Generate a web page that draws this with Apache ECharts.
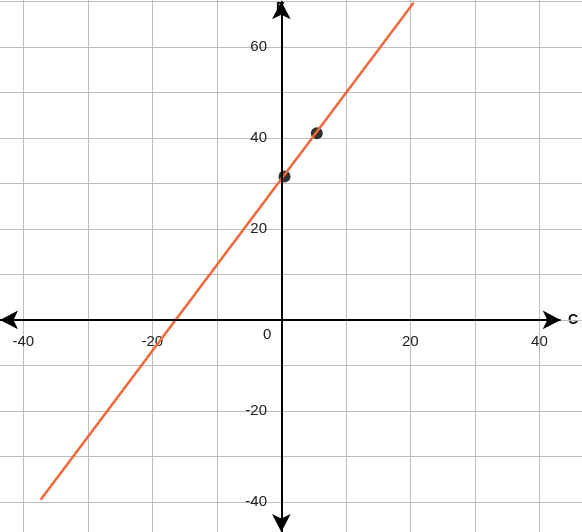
<!DOCTYPE html>
<html>
<head>
<meta charset="utf-8">
<script src="https://cdn.jsdelivr.net/npm/echarts@6/dist/echarts.min.js"></script>
<style>html,body{margin:0;padding:0;background:#fff}#chart{width:582px;height:532px}</style>
</head>
<body>
<div id="chart"></div>
<script>
// line endpoints (C, F)
const lineData = [[-37.3, -39.5], [20.5, 69.7]];
const pointData = [[0.5, 31.5], [5.5, 41]];
const xAxisEnds = [[-43.6, 0], [43.3, 0]];
const yAxisEnds = [[0, -46.6], [0, 70]];
const xGrid = [-40, -30, -20, -10, 0, 10, 20, 30, 40];
const yGrid = [-40, -30, -20, -10, 0, 10, 20, 30, 40, 50, 60, 70];
const xLabels = [-40, -20, 20, 40];
const yLabels = [-40, -20, 20, 40, 60];

const chart = echarts.init(document.getElementById("chart"));
const font = { fontFamily: "Liberation Sans, Arial, sans-serif", fontSize: 15, color: "#222" };

chart.setOption({
    animation: false,
    grid: { left: 0, right: 0, top: 0, bottom: 0, containLabel: false },
    xAxis: {
        type: "value", min: -43.6, max: 46.6, position: "bottom", offset: -212,
        axisLine: { show: false },
        axisTick: { show: false, customValues: xGrid },
        axisLabel: Object.assign({ customValues: xLabels, margin: 14 }, font),
        splitLine: { show: true, lineStyle: { color: "#bdbdbd", width: 1 } }
    },
    yAxis: {
        type: "value", min: -46.6, max: 70.3, position: "left", offset: -281,
        axisLine: { show: false },
        axisTick: { show: false, customValues: yGrid },
        axisLabel: Object.assign({ customValues: yLabels, margin: 14 }, font),
        splitLine: { show: true, lineStyle: { color: "#bdbdbd", width: 1 } }
    },
    graphic: [
        { type: "text", left: 263, top: 327, style: { text: "0", fill: "#222", font: "15px Liberation Sans, Arial" } },
        { type: "text", left: 568, top: 313, style: { text: "C", fill: "#111", font: "bold 14px Liberation Sans, Arial" } },
        { type: "text", left: 276, top: 1, style: { text: "F", fill: "#111", font: "bold 14px Liberation Sans, Arial" } }
    ],
    series: [
        {
            type: "line", data: [], silent: true,
            markLine: {
                silent: true, symbol: ["arrow", "arrow"], symbolSize: [14, 18],
                label: { show: false },
                lineStyle: { color: "#000", width: 2, type: "solid" },
                data: [
                    [{ coord: xAxisEnds[0] }, { coord: xAxisEnds[1] }],
                    [{ coord: yAxisEnds[0] }, { coord: yAxisEnds[1] }]
                ]
            }
        },
        {
            type: "line", data: lineData, showSymbol: false,
            lineStyle: { color: "#f0673a", width: 2.5 }
        },
        {
            type: "scatter", data: pointData, symbolSize: 12,
            itemStyle: { color: "#000" }
        }
    ]
});
</script>
</body>
</html>
